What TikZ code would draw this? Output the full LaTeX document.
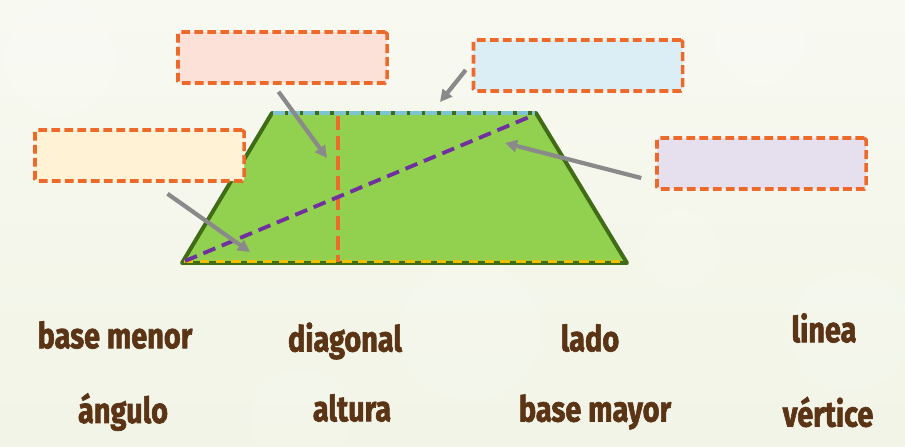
\documentclass[tikz,border=0pt]{standalone}
\usepackage{fontspec}
\setmainfont{Fira Sans}
\newfontfamily\wordfont{Fira Sans Bold}[FakeBold=2]
\usepackage{xcolor}
\usetikzlibrary{arrows.meta, positioning, calc}
\definecolor{bgTop}{HTML}{F8F9F1}
\definecolor{bgMid}{HTML}{E9EEDC}
\definecolor{bgBottom}{HTML}{F1F4E6}
\definecolor{boxOrange}{HTML}{EE6A2A}
\definecolor{fillPink}{HTML}{FCE1D9}
\definecolor{fillBlue}{HTML}{DCEEF5}
\definecolor{fillCream}{HTML}{FFF2D5}
\definecolor{fillLilac}{HTML}{E6E0EE}
\definecolor{arrowGray}{HTML}{8A8A8A}
\definecolor{trapGreen}{HTML}{92D050}
\definecolor{edgeGreen}{HTML}{3F6C15}
\definecolor{baseCyan}{HTML}{7DC4D2}
\definecolor{baseYellow}{HTML}{F2BE00}
\definecolor{diagPurple}{HTML}{7030A0}
\definecolor{wordBrown}{HTML}{5B3416}
\newcommand{\bankword}[1]{\scalebox{0.85}[1.05]{#1}}
\tikzset{
    blankBox/.style={draw=boxOrange, line width=3pt, dash pattern=on 7.5pt off 3.6pt, rounded corners=1.5pt, minimum width=6.27cm, minimum height=1.53cm, inner sep=0pt},
    pointer/.style={-{Triangle[length=3.6mm, width=3.6mm]}, line width=3.6pt, draw=arrowGray},
    wordLabel/.style={font=\wordfont\fontsize{29}{32}\selectfont, text=wordBrown, inner sep=0pt}
}

\begin{document}
\begin{tikzpicture}[x=0.03cm, y=-0.03cm]
    \useasboundingbox (0,0) rectangle (905,446);
    \shade[top color=bgTop, middle color=bgMid, bottom color=bgBottom] (0,0) rectangle (905,446);
    % faint bokeh
    \foreach \cx/\cy/\r in {60/60/55, 760/40/45, 470/330/70, 850/330/60, 300/420/50, 680/250/40}
        \fill[white, opacity=0.15] (\cx,\cy) circle (\r);
    % trapezoid
    \coordinate (TL) at (272,113);  \coordinate (TR) at (536,113);
    \coordinate (BR) at (627,263);  \coordinate (BL) at (182,263);
    \fill[trapGreen] (TL)--(TR)--(BR)--(BL)--cycle;
    \draw[edgeGreen, line width=3.4pt, line join=round] (TL)--(TR)--(BR)--(BL)--cycle;
    \draw[baseCyan, line width=3.2pt, dash pattern=on 10pt off 3pt] ($(TL)+(1,0)$)--($(TR)+(-1,0)$);
    \draw[edgeGreen, line width=4pt] (BL)--(BR);
    \draw[baseYellow, line width=2.8pt, dash pattern=on 8pt off 5.5pt] ($(BL)+(2,-1.5)$)--($(BR)+(-2,-1.5)$);
    % altura and diagonal
    \coordinate (altTop) at (338,116);  \coordinate (altFoot) at (338,262);
    \draw[boxOrange, line width=3.3pt, dash pattern=on 12pt off 5pt] (altTop)--(altFoot);
    \coordinate (diagA) at (185,261);  \coordinate (diagB) at (534,115);
    \draw[diagPurple, line width=3.3pt, dash pattern=on 11pt off 6pt] (diagA)--(diagB);
    % blank boxes
    \node[blankBox, fill=fillPink] (pinkBox) at (282.5,57.5) {};
    \node[blankBox, fill=fillBlue] (blueBox) at (578,65.5) {};
    \node[blankBox, fill=fillCream] (creamBox) at (139.5,155.5) {};
    \node[blankBox, fill=fillLilac] (lilacBox) at (761.5,163.5) {};
    % pointers
    \coordinate (altTip) at (327,158);    \coordinate (topTip) at (440,102);
    \coordinate (bottomTip) at (250,252); \coordinate (diagTip) at (505,143);
    \draw[pointer] ([shift={(-4,7)}]pinkBox.south) -- (altTip);
    \draw[pointer] ([shift={(-6,4.5)}]blueBox.west) -- (topTip);
    \draw[pointer] ([shift={(28,11)}]creamBox.south) -- (bottomTip);
    \draw[pointer] ([shift={(-14,14.5)}]lilacBox.west) -- (diagTip);
    % word bank
    \node[wordLabel] (wBaseMenor) at (115,335) {\bankword{base menor}};
    \node[wordLabel] (wDiagonal) at (345,341) {\bankword{diagonal}};
    \node[wordLabel] (wLado) at (590,338) {\bankword{lado}};
    \node[wordLabel] (wLinea) at (824,328) {\bankword{linea}};
    \node[wordLabel] (wAngulo) at (123,412) {\bankword{ángulo}};
    \node[wordLabel] (wAltura) at (352,408) {\bankword{altura}};
    \node[wordLabel] (wBaseMayor) at (595,412) {\bankword{base mayor}};
    \node[wordLabel] (wVertice) at (828,412) {\bankword{vértice}};
\end{tikzpicture}
\end{document}
